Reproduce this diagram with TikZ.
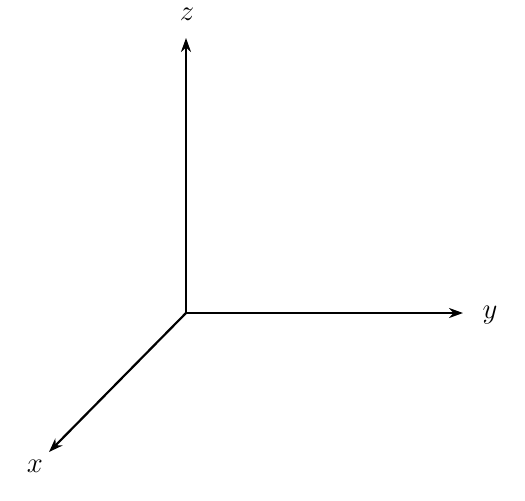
\documentclass[tikz,border=0pt]{standalone}
\usetikzlibrary{arrows.meta}
\begin{document}
\begin{tikzpicture}[x=0.5pt,y=-0.5pt,
  axis/.style={line width=1.1pt,-{Stealth[length=7pt,width=5pt,inset=2.2pt]}},
  lbl/.style={font=\Large,inner sep=0pt}]
\useasboundingbox (0,0) rectangle (525,500);
\coordinate (o) at (186,313);
\coordinate (zt) at (186,38);
\coordinate (yt) at (463,313);
\coordinate (xt) at (49,452);
\node[lbl] (z) at (187,14) {$z$};
\node[lbl] (y) at (490,315) {$y$};
\node[lbl] (x) at (35,466) {$x$};
\draw[axis] (o) -- (zt);
\draw[axis] (o) -- (yt);
\draw[axis] (o) -- (xt);
\end{tikzpicture}
\end{document}
